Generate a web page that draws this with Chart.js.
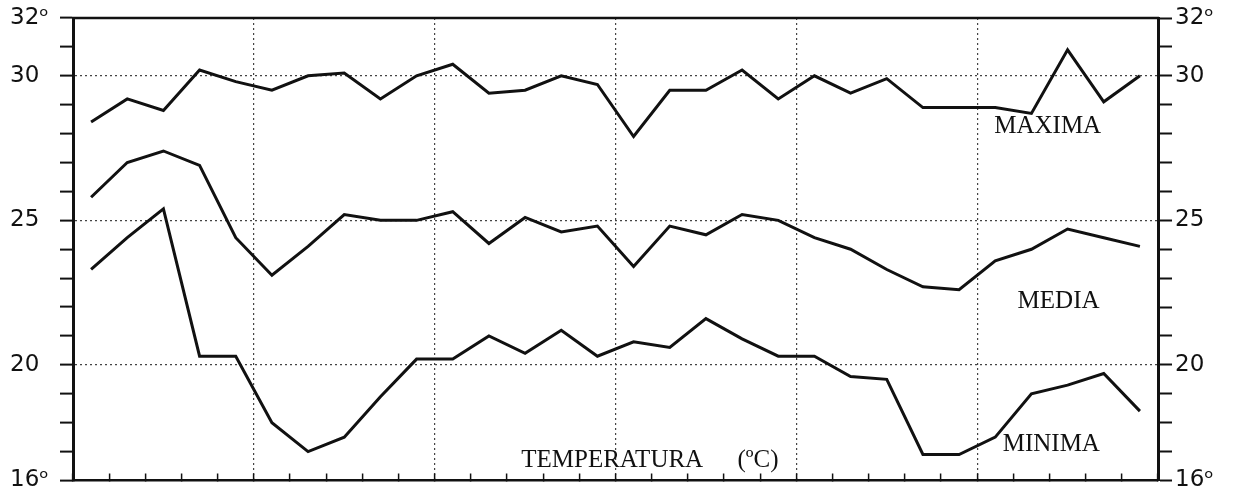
<!DOCTYPE html>
<html>
<head>
<meta charset="utf-8">
<script src="https://cdn.jsdelivr.net/npm/chart.js@4.4.0/dist/chart.umd.min.js"></script>
<style>
html,body{margin:0;padding:0;background:#fff;}
canvas{display:block;}
</style>
</head>
<body>
<canvas id="c" width="1245" height="495"></canvas>
<script>
// ---- data ----
const days = ['1','2','3','4','5','6','7','8','9','10','11','12','13','14','15','16','17','18','19','20','21','22','23','24','25','26','27','28','29','30'];
const maxima = [28.4, 29.2, 28.8, 30.2, 29.8, 29.5, 30.0, 30.1, 29.2, 30.0, 30.4, 29.4, 29.5, 30.0, 29.7, 27.9, 29.5, 29.5, 30.2, 29.2, 30.0, 29.4, 29.9, 28.9, 28.9, 28.9, 28.7, 30.9, 29.1, 30.0];
const media  = [25.8, 27.0, 27.4, 26.9, 24.4, 23.1, 24.1, 25.2, 25.0, 25.0, 25.3, 24.2, 25.1, 24.6, 24.8, 23.4, 24.8, 24.5, 25.2, 25.0, 24.4, 24.0, 23.3, 22.7, 22.6, 23.6, 24.0, 24.7, 24.4, 24.1];
const minima = [23.3, 24.4, 25.4, 20.3, 20.3, 18.0, 17.0, 17.5, 18.9, 20.2, 20.2, 21.0, 20.4, 21.2, 20.3, 20.8, 20.6, 21.6, 20.9, 20.3, 20.3, 19.6, 19.5, 16.9, 16.9, 17.5, 19.0, 19.3, 19.7, 18.4];
const yTickLabels = {32: '32ᵒ', 30: '30', 25: '25', 20: '20', 16: '16ᵒ'};
const yGridValues = [20, 25, 30];
const xGridEvery = 5;
const seriesNames = ['MAXIMA', 'MEDIA', 'MINIMA'];
const axisTitle = 'TEMPERATURA (ºC)';

// annotation anchors (category index, temperature)
const notes = [
  {text: seriesNames[0], x: 26.45, y: 28.25, ws: 0},
  {text: seriesNames[1], x: 26.75, y: 22.2, ws: 0},
  {text: seriesNames[2], x: 26.55, y: 17.25, ws: 0},
  {text: axisTitle,      x: 15.45, y: 16.7, ws: 28}
];

const INK = '#111';
const DOT = '#444';

const deco = {
  id: 'deco',
  afterDraw(chart) {
    const {ctx, chartArea: a, scales: {x, y}} = chart;
    ctx.save();
    ctx.strokeStyle = INK;
    ctx.lineWidth = 2.5;
    ctx.beginPath();
    ctx.moveTo(a.left - 1, a.top);
    ctx.lineTo(a.right + 1, a.top);
    ctx.stroke();
    ctx.fillStyle = INK;
    ctx.font = '25px "Liberation Serif", "DejaVu Serif", serif';
    ctx.textAlign = 'center';
    ctx.textBaseline = 'middle';
    for (const n of notes) {
      try { ctx.wordSpacing = n.ws + 'px'; } catch (e) {}
      ctx.fillText(n.text, x.getPixelForValue(n.x), y.getPixelForValue(n.y));
    }
    ctx.restore();
  }
};

const lineStyle = {borderColor: INK, borderWidth: 3, pointRadius: 0, tension: 0, fill: false};

new Chart(document.getElementById('c'), {
  type: 'line',
  data: {
    labels: days,
    datasets: [
      Object.assign({label: seriesNames[0], data: maxima}, lineStyle),
      Object.assign({label: seriesNames[1], data: media}, lineStyle),
      Object.assign({label: seriesNames[2], data: minima}, lineStyle)
    ]
  },
  options: {
    responsive: false,
    animation: false,
    devicePixelRatio: 1,
    layout: {padding: {left: 10, top: 18, right: 0, bottom: 0}},
    plugins: {legend: {display: false}, tooltip: {enabled: false}, title: {display: false}},
    scales: {
      x: {
        type: 'category',
        offset: true,
        grid: {
          offset: true,
          color: (c) => (c.index > 0 && c.index < days.length && c.index % xGridEvery === 0) ? DOT : 'rgba(0,0,0,0)',
          lineWidth: 1.2,
          tickColor: INK,
          tickLength: -7,
          tickWidth: 1.5,
          tickBorderDash: []
        },
        border: {display: true, color: INK, width: 2.5, dash: [2, 3]},
        ticks: {display: false},
        afterFit(s) { s.height = 12; }
      },
      y: {
        type: 'linear',
        position: 'left',
        min: 16, max: 32,
        grid: {
          color: (c) => (c.tick && yGridValues.includes(c.tick.value)) ? DOT : 'rgba(0,0,0,0)',
          lineWidth: 1.2,
          tickColor: INK,
          tickLength: 13,
          tickWidth: 2,
          tickBorderDash: []
        },
        border: {display: true, color: INK, width: 3, dash: [2, 3]},
        ticks: {
          stepSize: 1,
          autoSkip: false,
          padding: 3,
          crossAlign: 'far',
          color: INK,
          font: {family: '"DejaVu Sans", sans-serif', size: 23, lineHeight: 1},
          callback: (v) => yTickLabels[v] !== undefined ? yTickLabels[v] : ''
        },
        afterFit(s) { s.width = 63; }
      },
      y2: {
        type: 'linear',
        position: 'right',
        display: true,
        min: 16, max: 32,
        grid: {
          drawOnChartArea: false,
          tickColor: INK,
          tickLength: 14,
          tickWidth: 2
        },
        border: {display: true, color: INK, width: 3},
        ticks: {
          stepSize: 1,
          autoSkip: false,
          padding: 3,
          color: INK,
          font: {family: '"DejaVu Sans", sans-serif', size: 23, lineHeight: 1},
          callback: (v) => yTickLabels[v] !== undefined ? yTickLabels[v] : ''
        },
        afterFit(s) { s.width = 87; }
      }
    }
  },
  plugins: [deco]
});
</script>
</body>
</html>
